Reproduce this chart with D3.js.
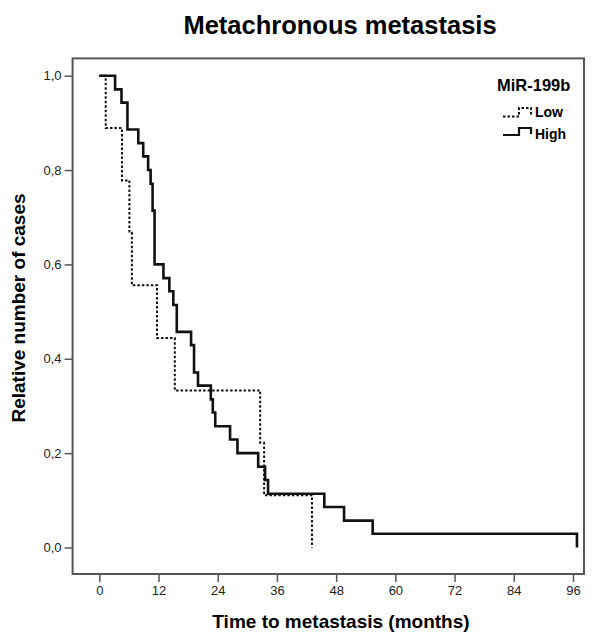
<!DOCTYPE html>
<html><head><meta charset="utf-8">
<script src="https://cdn.jsdelivr.net/npm/d3@7"></script>
<style>body{margin:0;background:#fff}svg{display:block}text{font-family:"Liberation Sans",Arial,sans-serif}</style>
</head><body>
<svg id="c" width="599" height="637"></svg>
<script>
const title = "Metachronous metastasis";
const xLabel = "Time to metastasis (months)";
const yLabel = "Relative number of cases";
const legendTitle = "MiR-199b";
const seriesNames = ["Low", "High"];
const xTicks = [0, 12, 24, 36, 48, 60, 72, 84, 96];
const yTicks = [0, 0.2, 0.4, 0.6, 0.8, 1.0];
// Low group (dotted)
const lowTimes = [0, 1.3, 4.6, 6.1, 6.6, 11.7, 15.3, 32.6, 33.4, 43.1];
const lowValues = [1, 0.889, 0.778, 0.667, 0.556, 0.444, 0.333, 0.222, 0.111, 0];
// High group (solid)
const highTimes = [0, 3.2, 4.5, 5.7, 7.9, 8.9, 9.9, 10.4, 10.8, 11.2, 13.0, 14.2, 15.0, 15.7, 18.6, 19.2, 20.0, 22.6, 23.0, 23.5, 26.5, 28.0, 32.2, 33.6, 34.2, 45.6, 49.6, 55.4, 96.8];
const highValues = [1, 0.971, 0.943, 0.886, 0.857, 0.829, 0.800, 0.771, 0.714, 0.600, 0.571, 0.543, 0.514, 0.457, 0.429, 0.371, 0.343, 0.314, 0.286, 0.257, 0.229, 0.200, 0.171, 0.143, 0.114, 0.086, 0.057, 0.029, 0];

const svg = d3.select("#c");
const frame = {l: 72.6, t: 58.4, r: 584, b: 574};
const x = d3.scaleLinear().domain([0, 96]).range([99.3, 573]);
const y = d3.scaleLinear().domain([0, 1]).range([547.5, 75.7]);

svg.append("text").attr("x", 340).attr("y", 34).attr("text-anchor", "middle")
  .attr("font-size", 25.5).attr("font-weight", "bold").text(title);

svg.append("rect").attr("x", frame.l).attr("y", frame.t)
  .attr("width", frame.r - frame.l).attr("height", frame.b - frame.t)
  .attr("fill", "none").attr("stroke", "#555").attr("stroke-width", 2);

const xa = svg.append("g").attr("transform", `translate(0,${frame.b})`)
  .call(d3.axisBottom(x).tickValues(xTicks).tickSize(8).tickPadding(4).tickFormat(d3.format("d")));
xa.select(".domain").remove();
xa.selectAll("line").attr("stroke", "#555").attr("stroke-width", 1.5);
xa.selectAll("text").attr("font-size", 13).attr("fill", "#222");

const ya = svg.append("g").attr("transform", `translate(${frame.l},0)`)
  .call(d3.axisLeft(y).tickValues(yTicks).tickSize(8).tickPadding(3).tickFormat(d => d.toFixed(1).replace(".", ",")));
ya.select(".domain").remove();
ya.selectAll("line").attr("stroke", "#555").attr("stroke-width", 1.5);
ya.selectAll("text").attr("font-size", 13).attr("fill", "#222");

svg.append("text").attr("x", 341).attr("y", 628).attr("text-anchor", "middle")
  .attr("font-size", 19).attr("font-weight", "bold").text(xLabel);
svg.append("text").attr("transform", "translate(25,308) rotate(-90)").attr("text-anchor", "middle")
  .attr("font-size", 19).attr("font-weight", "bold").text(yLabel);

const line = d3.line().x(d => x(d[0])).y(d => y(d[1])).curve(d3.curveStepAfter);
svg.append("path").datum(lowTimes.map((t, i) => [t, lowValues[i]]))
  .attr("d", line).attr("fill", "none").attr("stroke", "#111").attr("stroke-width", 2).attr("stroke-dasharray", "2.5,2");
svg.append("path").datum(highTimes.map((t, i) => [t, highValues[i]]))
  .attr("d", line).attr("fill", "none").attr("stroke", "#111").attr("stroke-width", 2.6);

// legend
svg.append("text").attr("x", 497).attr("y", 90.7).attr("font-size", 16.5).attr("font-weight", "bold").text(legendTitle);
svg.append("path").attr("d", "M503,116.5H519V108H531V115").attr("fill", "none").attr("stroke", "#111")
  .attr("stroke-width", 2).attr("stroke-dasharray", "2.5,2");
svg.append("path").attr("d", "M503,135H519V128H531V134").attr("fill", "none").attr("stroke", "#111").attr("stroke-width", 2.2);
svg.append("text").attr("x", 535).attr("y", 116.7).attr("font-size", 14).attr("font-weight", "bold").text(seriesNames[0]);
svg.append("text").attr("x", 535).attr("y", 139.3).attr("font-size", 14).attr("font-weight", "bold").text(seriesNames[1]);
</script>
</body></html>
